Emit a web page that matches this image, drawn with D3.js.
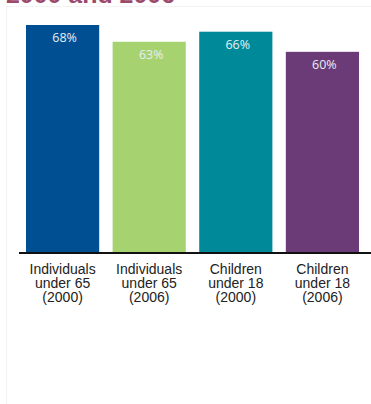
<!DOCTYPE html>
<html><head><meta charset="utf-8">
<script src="https://cdn.jsdelivr.net/npm/d3@7"></script>
<style>html,body{margin:0;padding:0;background:#fff;}svg{display:block;}</style>
</head><body>
<svg id="c" width="371" height="404"></svg>
<script>
const categories = [
  ["Individuals", "under 65", "(2000)"],
  ["Individuals", "under 65", "(2006)"],
  ["Children", "under 18", "(2000)"],
  ["Children", "under 18", "(2006)"]
];
const values = [68, 63, 66, 60];
const valueLabels = ["68%", "63%", "66%", "60%"];
const colors = ["#004f93", "#a6d36f", "#008a99", "#6b3b78"];
const title = "2000 and 2006";

const svg = d3.select("#c");
svg.append("rect").attr("x", 6.5).attr("y", 6.5).attr("width", 380).attr("height", 420)
  .attr("fill", "none").attr("stroke", "#f3f3f3");
svg.append("text").attr("x", 6).attr("y", 2.5).attr("font-family", "Liberation Sans, Arial, sans-serif")
  .attr("font-weight", "bold").attr("font-size", 24).attr("fill", "#9c4a6b")
  .attr("textLength", 169).attr("lengthAdjust", "spacingAndGlyphs").text(title);

const idx = d3.range(values.length);
const x = d3.scaleBand().domain(idx).range([26, 359]).paddingInner(0.155).paddingOuter(0);
const y = d3.scaleLinear().domain([0, 68]).range([253, 25]);

svg.selectAll("rect.bar").data(idx).join("rect").attr("class", "bar")
  .attr("x", i => x(i)).attr("width", x.bandwidth())
  .attr("y", i => y(values[i])).attr("height", i => y(0) - y(values[i]))
  .attr("fill", i => colors[i]);

svg.selectAll("text.val").data(idx).join("text").attr("class", "val")
  .attr("x", i => x(i) + x.bandwidth() / 2 + 2).attr("y", i => y(values[i]) + 17)
  .attr("text-anchor", "middle").attr("font-family", "Open Sans, sans-serif")
  .attr("font-size", 12.5).attr("fill", "#e8eef4").text(i => valueLabels[i]);

svg.append("line").attr("x1", 19).attr("x2", 371).attr("y1", y(0)).attr("y2", y(0))
  .attr("stroke", "#111").attr("stroke-width", 2);

const lab = svg.selectAll("text.cat").data(idx).join("text").attr("class", "cat")
  .attr("text-anchor", "middle").attr("font-family", "Liberation Sans, Arial, sans-serif")
  .attr("font-size", 14).attr("fill", "#222")
  .attr("transform", i => `translate(${x(i) + x.bandwidth() / 2},274)`);
lab.selectAll("tspan").data(i => categories[i]).join("tspan")
  .attr("x", 0).attr("dy", (d, j) => j === 0 ? 0 : 14).text(d => d);
</script>
</body></html>
